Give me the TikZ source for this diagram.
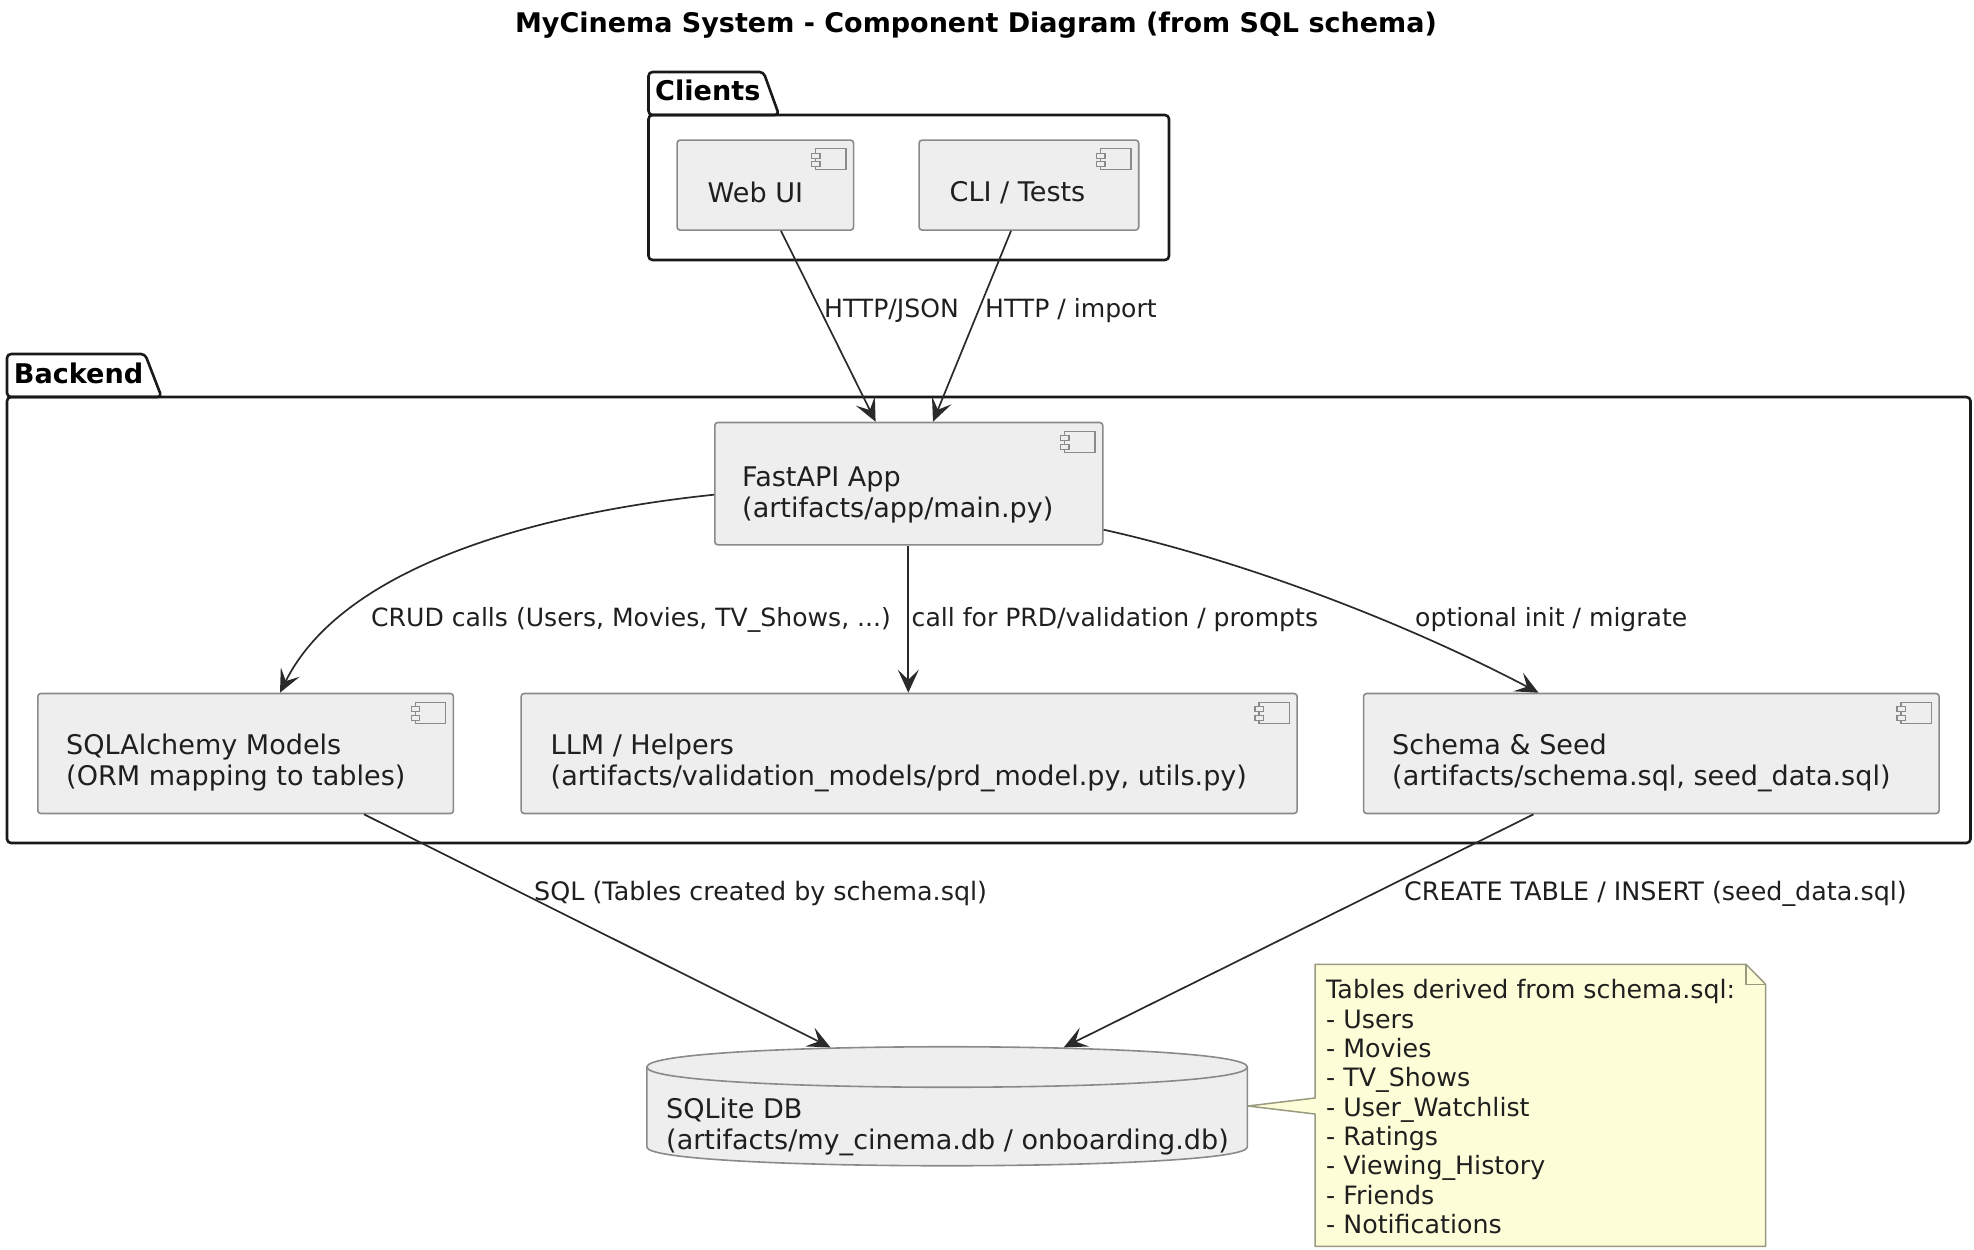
\documentclass[tikz,border=0pt]{standalone}
\usepackage{fontspec}
\setmainfont{DejaVu Sans}
\usetikzlibrary{arrows.meta,calc}
\definecolor{compfill}{HTML}{EEEEEE}
\definecolor{compline}{HTML}{8A8A8A}
\definecolor{linkcol}{HTML}{2A2A2A}
\definecolor{notefill}{HTML}{FDFED8}
\definecolor{noteline}{HTML}{9A9A80}
\tikzset{
  x=1pt,y=-1pt,
  compbox/.style={draw=compline,fill=compfill,line width=1.6pt,rounded corners=3pt,inner sep=0pt,anchor=north west},
  boxsize/.style 2 args={minimum width=#1pt,minimum height=#2pt},
  comptext/.style={anchor=north west,inner sep=0pt,align=left,text=black!88,font=\fontsize{27.05}{30.8}\selectfont},
  labeltext/.style={anchor=base west,inner sep=0pt,text=black!88,font=\fontsize{25.1}{29.3}\selectfont},
  widelabel/.style={labeltext,font=\fontsize{25.4}{29.3}\selectfont},
  pkgtitle/.style={anchor=base west,inner sep=0pt,font=\fontsize{27.1}{30}\selectfont\bfseries},
  pkgline/.style={draw=black!90,line width=2.6pt,rounded corners=4pt,line join=round},
  link/.style={draw=linkcol,line width=1.7pt,-{Stealth[length=23pt,width=21pt,inset=10pt]}},
}
\newcommand{\compicon}[1]{%
  \draw[compline,line width=1.3pt] ([shift={(-39,9.5)}]#1.north east) rectangle ([shift={(-8.5,30.5)}]#1.north east);
  \draw[compline,fill=compfill,line width=1.3pt] ([shift={(-43,14)}]#1.north east) rectangle ([shift={(-34.5,19)}]#1.north east);
  \draw[compline,fill=compfill,line width=1.3pt] ([shift={(-43,22.5)}]#1.north east) rectangle ([shift={(-34.5,27.5)}]#1.north east);
}
\begin{document}
\begin{tikzpicture}
\useasboundingbox (0,0) rectangle (1974,1250);
\node[anchor=base,inner sep=0pt,font=\fontsize{27}{30}\selectfont\bfseries] (title) at (976,32) {MyCinema System - Component Diagram (from SQL schema)};
% packages
\draw[pkgline] (648.5,115) -- (648.5,72) -- (763.5,72) -- (779,115) -- cycle;
\draw[pkgline] (648.5,115) -- (1169,115) -- (1169,260) -- (648.5,260) -- cycle;
\node[pkgtitle] (clientsT) at (655,100) {Clients};
\draw[pkgline] (7,397) -- (7,354) -- (145,354) -- (161.6,397) -- cycle;
\draw[pkgline] (7,397) -- (1970.5,397) -- (1970.5,843) -- (7,843) -- cycle;
\node[pkgtitle] (backendT) at (13.7,383) {Backend};
% components
\node[compbox,boxsize={176.5}{90}] (web) at (676.3,139.3) {};
\compicon{web}
\node[comptext] (webT) at (707.5,181.5) {Web UI};
\node[compbox,boxsize={219.6}{90}] (cli) at (918.3,139.3) {};
\compicon{cli}
\node[comptext] (cliT) at (949.5,181.5) {CLI / Tests};
\node[compbox,boxsize={388}{122.3}] (api) at (714,421.7) {};
\compicon{api}
\node[comptext] (apiT) at (742,466.5) {FastAPI App\\(artifacts/app/main.py)};
\node[compbox,boxsize={415.6}{120}] (orm) at (37,692.7) {};
\compicon{orm}
\node[comptext] (ormT) at (66,734) {SQLAlchemy Models\\(ORM mapping to tables)};
\node[compbox,boxsize={776}{120}] (llm) at (520.3,692.7) {};
\compicon{llm}
\node[comptext] (llmT) at (550.5,734) {LLM / Helpers\\(artifacts/validation\_models/prd\_model.py, utils.py)};
\node[compbox,boxsize={575.5}{120}] (seed) at (1362.8,692.7) {};
\compicon{seed}
\node[comptext] (seedT) at (1392,734) {Schema \& Seed\\(artifacts/schema.sql, seed\_data.sql)};
% database
\coordinate (dbL) at (646.8,1067);
\coordinate (dbR) at (1247.4,1067);
\filldraw[draw=compline,fill=compfill,line width=1.6pt]
  (dbL) .. controls (646.8,1040) and (1247.4,1040) .. (dbR)
  -- (1247.4,1147) .. controls (1247.4,1172) and (646.8,1172) .. (646.8,1147) -- cycle;
\draw[compline,line width=1.6pt] (dbL) .. controls (646.8,1094) and (1247.4,1094) .. (dbR);
\node[inner sep=0pt,minimum width=600.6pt,minimum height=119.4pt,anchor=north west] (db) at (646.8,1047.3) {};
\node[comptext] (dbT) at (666,1098) {SQLite DB\\(artifacts/my\_cinema.db / onboarding.db)};
% note
\node[inner sep=0pt,minimum width=450.3pt,minimum height=281.7pt,anchor=north west] (note) at (1315,964.3) {};
\filldraw[draw=noteline,fill=notefill,line width=1.5pt,line join=round]
  (note.north west) -- (1746,964.3) -- (note.east |- 0,984.3) -- (note.south east) -- (note.south west)
  -- (1315,1114) -- (db.east |- 0,1106) -- (1315,1098) -- cycle;
\draw[noteline,line width=1.5pt,line join=round] (1746,964.3) -- (1746,984.3) -- (note.east |- 0,984.3);
\node[anchor=north west,inner sep=0pt,align=left,text=black!88,font=\fontsize{25.3}{29.3}\selectfont] (noteT) at (1326,979.5) {Tables derived from schema.sql:\\- Users\\- Movies\\- TV\_Shows\\- User\_Watchlist\\- Ratings\\- Viewing\_History\\- Friends\\- Notifications};
% connectors
\draw[link] ([xshift=104.7pt]web.south west) -- ([xshift=161.6pt]api.north west);
\draw[link] ([xshift=92.7pt]cli.south west) -- ([xshift=219pt]api.north west);
\draw[link] ([shift={(0,73)}]api.north west) .. controls (520,515) and (340,572) .. ([xshift=243pt]orm.north west);
\draw[link] ([xshift=-0.5pt]api.south) -- ([xshift=-0.5pt]api.south |- llm.north);
\draw[link] ([shift={(0,108)}]api.north east) .. controls (1240,560) and (1400,620) .. ([xshift=175.7pt]seed.north west);
\draw[link] ([xshift=327pt]orm.south west) -- ([xshift=183.6pt]db.north west);
\draw[link] ([xshift=170.7pt]seed.south west) -- ([xshift=417pt]db.north west);
% labels
\node[labeltext] (l1) at (824,317) {HTTP/JSON};
\node[labeltext] (l2) at (985,317) {HTTP / import};
\node[labeltext] (l3) at (371,626) {CRUD calls (Users, Movies, TV\_Shows, ...)};
\node[labeltext] (l4) at (911.5,626) {call for PRD/validation / prompts};
\node[labeltext] (l5) at (1415,626) {optional init / migrate};
\node[widelabel] (l6) at (534,900) {SQL (Tables created by schema.sql)};
\node[widelabel] (l7) at (1404,900) {CREATE TABLE / INSERT (seed\_data.sql)};
\end{tikzpicture}
\end{document}
